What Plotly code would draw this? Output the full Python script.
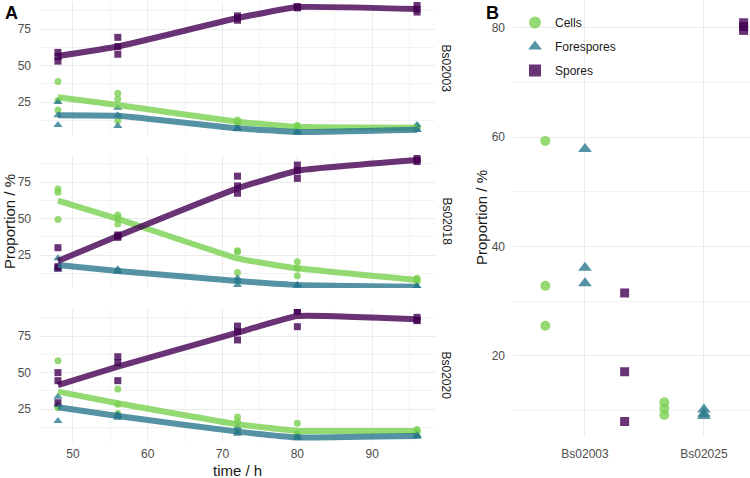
import plotly.graph_objects as go

# ---------------- data ----------------
times = [48, 56, 72, 80, 96]
strains_a = ["Bs02003", "Bs02018", "Bs02020"]
series = ["Cells", "Forespores", "Spores"]
colors = {"Cells": "#7AD151", "Forespores": "#2A788E", "Spores": "#440154"}
symbols = {"Cells": "circle", "Forespores": "triangle-up", "Spores": "square"}

# replicate points (3 per time point)
cells_02003 = [[39, 26, 19.5], [31, 27, 12.2], [12.7, 11, 10], [9, 8, 7], [8, 7, 7]]
fore_02003 = [[25, 16, 9.2], [21, 16, 8.6], [7.2, 7, 6.5], [4, 4.5, 5], [9.2, 6, 6]]
spor_02003 = [[59, 56, 53], [69.3, 62.9, 57.7], [84, 82.5, 81], [90.3, 90, 89.5], [91.4, 86.6, 88.5]]

cells_02018 = [[70.2, 68, 49.4], [52.4, 50.6, 46.2], [27.3, 28, 13], [20.4, 16, 10.8], [9, 8, 7]]
fore_02018 = [[22.7, 17, 15], [15.2, 14, 13.6], [9, 4.5, 7.2], [4.5, 4.5, 4], [3.5, 3.5, 3.2]]
spor_02018 = [[30, 17, 16], [38.7, 38, 37.1], [79, 72.3, 67.3], [86.6, 82.7, 77.5], [91.2, 89, 90]]

cells_02020 = [[58, 27, 26], [38.7, 28.2, 22], [19.5, 16.5, 10], [15.2, 8, 7], [11, 10, 9]]
fore_02020 = [[33.4, 28, 16.8], [21, 20.2, 19], [12.5, 9.5, 8], [5.6, 5.6, 5], [7.2, 6, 6.5]]
spor_02020 = [[49.9, 44.4, 29.3], [60.8, 56.7, 44.4], [81.8, 78, 72.3], [92, 92, 81.4], [87.8, 85.5, 86]]

# smoothed trend lines
fit_cells_02003 = [28.2, 23, 11.5, 8, 7.4]
fit_fore_02003 = [16, 15.6, 7, 4.5, 6]
fit_spor_02003 = [56.5, 63, 82.5, 90, 88.7]

fit_cells_02018 = [62.2, 49.7, 22.7, 15.9, 7.9]
fit_fore_02018 = [18.2, 14, 7.2, 4.5, 3.3]
fit_spor_02018 = [20.9, 38, 70.7, 82.7, 90]

fit_cells_02020 = [36.9, 28.9, 14.5, 10.1, 10]
fit_fore_02020 = [26.2, 20.2, 9.5, 5.6, 6.5]
fit_spor_02020 = [41.4, 54, 77.3, 88.7, 86.4]

# panel B
strains_b = ["Bs02003", "Bs02025"]
b_cells = [[59.3, 32.8, 25.5], [11.5, 10.4, 9.2]]
b_fore = [[57.8, 36.1, 33.3], [10.2, 9.4, 9.0]]
b_spor = [[31.5, 17.1, 8.0], [80.9, 79.5, 80.2]]

x_ticks_a = [50, 60, 70, 80, 90]
y_ticks_a = [25, 50, 75]
y_ticks_b = [20, 40, 60, 80]

points_a = {
    "Bs02003": {"Cells": cells_02003, "Forespores": fore_02003, "Spores": spor_02003},
    "Bs02018": {"Cells": cells_02018, "Forespores": fore_02018, "Spores": spor_02018},
    "Bs02020": {"Cells": cells_02020, "Forespores": fore_02020, "Spores": spor_02020},
}
fits_a = {
    "Bs02003": {"Cells": fit_cells_02003, "Forespores": fit_fore_02003, "Spores": fit_spor_02003},
    "Bs02018": {"Cells": fit_cells_02018, "Forespores": fit_fore_02018, "Spores": fit_spor_02018},
    "Bs02020": {"Cells": fit_cells_02020, "Forespores": fit_fore_02020, "Spores": fit_spor_02020},
}
points_b = {"Cells": b_cells, "Forespores": b_fore, "Spores": b_spor}

# ---------------- figure ----------------
W, H = 750, 478
FONT = "Liberation Sans, Arial, Helvetica, sans-serif"
GRID = "#EBEBEB"
MINOR = "#F3F3F3"
fig = go.Figure()

msize_a = {"Cells": 7, "Forespores": 8, "Spores": 7}
for pi, strain in enumerate(strains_a):
    ax = "" if pi == 0 else str(pi + 1)
    for s in series:
        xs, ys = [], []
        for t, reps in zip(times, points_a[strain][s]):
            for v in reps:
                xs.append(t)
                ys.append(v)
        fig.add_trace(go.Scatter(
            x=xs, y=ys, mode="markers", xaxis="x" + ax, yaxis="y" + ax,
            marker=dict(symbol=symbols[s], color=colors[s], size=msize_a[s], opacity=0.8),
            showlegend=False, hoverinfo="skip"))
    for s in series:
        fig.add_trace(go.Scatter(
            x=times, y=fits_a[strain][s], mode="lines", xaxis="x" + ax, yaxis="y" + ax,
            line=dict(color=colors[s], width=6, shape="spline", smoothing=0.35),
            opacity=0.8, showlegend=False, hoverinfo="skip"))

# panel B (dodged points)
msize_b = {"Cells": 10, "Forespores": 12, "Spores": 9}
for si, s in enumerate(series):
    xs, ys = [], []
    for ci, reps in enumerate(points_b[s]):
        for v in reps:
            xs.append(ci + 1 + (si - 1) / 3)
            ys.append(v)
    fig.add_trace(go.Scatter(
        x=xs, y=ys, mode="markers", xaxis="x4", yaxis="y4", name=s,
        legendgroup=s,
        marker=dict(symbol=symbols[s], color=colors[s], size=msize_b[s], opacity=0.8),
        hoverinfo="skip"))

xa_dom = [40 / W, 435 / W]
panel_px = [(2, 135), (155, 288), (309, 442)]
yrange_a = [2.4, 93.5]
TICKFONT = dict(family=FONT, size=12, color="#4D4D4D")

common_x = dict(range=[45.6, 98.4], tickvals=x_ticks_a, showgrid=True, gridcolor=GRID,
                gridwidth=1, zeroline=False, showline=False, ticks="",
                minor=dict(tickvals=[55, 65, 75, 85, 95], showgrid=True, gridcolor=MINOR, gridwidth=1),
                tickfont=TICKFONT, domain=xa_dom, ticklabelstandoff=3)
common_y = dict(range=yrange_a, tickvals=y_ticks_a, showgrid=True, gridcolor=GRID, gridwidth=1,
                zeroline=False, showline=False, ticks="",
                minor=dict(tickvals=[12.5, 37.5, 62.5, 87.5], showgrid=True, gridcolor=MINOR, gridwidth=1),
                tickfont=TICKFONT, ticklabelstandoff=8)

layout = dict(width=W, height=H, margin=dict(l=0, r=0, t=0, b=0),
              paper_bgcolor="white", plot_bgcolor="white",
              font=dict(family=FONT, color="#1A1A1A"))
for pi in range(3):
    key = "" if pi == 0 else str(pi + 1)
    top, bot = panel_px[pi]
    xa = dict(common_x)
    xa["anchor"] = "y" + key
    xa["showticklabels"] = (pi == 2)
    ya = dict(common_y)
    ya["domain"] = [1 - bot / H, 1 - top / H]
    ya["anchor"] = "x" + key
    layout["xaxis" + key] = xa
    layout["yaxis" + key] = ya

layout["xaxis4"] = dict(domain=[513 / W, 1.0], range=[0.395, 2.387], tickvals=[1, 2],
                        ticktext=strains_b, showgrid=True, gridcolor=GRID, zeroline=False,
                        ticks="", anchor="y4", tickfont=TICKFONT, ticklabelstandoff=8)
layout["yaxis4"] = dict(domain=[1 - 437 / H, 1.0], range=[5.17, 85.06], tickvals=y_ticks_b,
                        showgrid=True, gridcolor=GRID, zeroline=False, ticks="", anchor="x4",
                        minor=dict(tickvals=[10, 30, 50, 70], showgrid=True, gridcolor=MINOR, gridwidth=1),
                        tickfont=TICKFONT, ticklabelstandoff=7)

layout["legend"] = dict(x=515 / W, y=1 - 8 / H, xanchor="left", yanchor="top",
                        bgcolor="rgba(0,0,0,0)", font=dict(family=FONT, size=12, color="#1A1A1A"),
                        tracegroupgap=5, itemsizing="constant")
fig.update_layout(**layout)


def note(text, x, y, size, angle=0, color="#1A1A1A", xanchor="center", yanchor="middle"):
    return dict(text=text, x=x / W, y=1 - y / H, xref="paper", yref="paper",
                xanchor=xanchor, yanchor=yanchor, textangle=angle, showarrow=False,
                font=dict(size=size, family=FONT, color=color))


ann = [
    note("<b>A</b>", 3, 1, 18, color="black", xanchor="left", yanchor="top"),
    note("<b>B</b>", 484, 1, 18, color="black", xanchor="left", yanchor="top"),
    note("Proportion / %", 10, 222, 15, angle=-90),
    note("Proportion / %", 481, 218, 15, angle=-90),
    note("time / h", 237.5, 470, 15),
]
for pi, strain in enumerate(strains_a):
    top, bot = panel_px[pi]
    ann.append(note(strain, 446, (top + bot) / 2, 12, angle=90))
fig.update_layout(annotations=ann)

fig.write_html("out.html", config={"displayModeBar": False},
               post_script="document.body.style.margin='0';document.body.style.overflow='hidden';")
